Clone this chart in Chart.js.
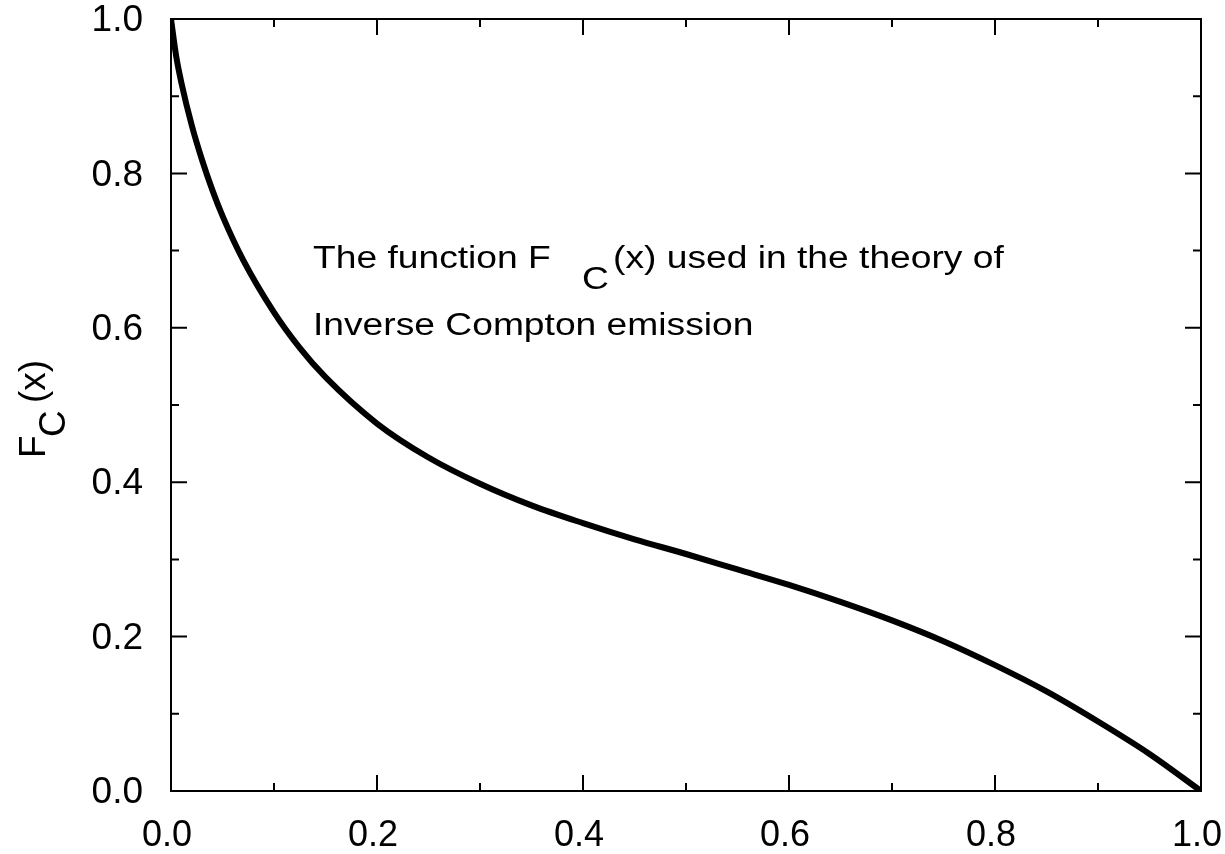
<!DOCTYPE html>
<html>
<head>
<meta charset="utf-8">
<script src="https://cdn.jsdelivr.net/npm/chart.js@4.4.0/dist/chart.umd.min.js"></script>
<style>
  body { margin: 0; background: #fff; }
  #wrap { width: 1225px; height: 854px; }
</style>
</head>
<body>
<div id="wrap"><canvas id="myChart"></canvas></div>
<script>
"use strict";

// values
var xValues = [0, 0.005, 0.01, 0.02, 0.03, 0.04, 0.05, 0.07, 0.1, 0.125, 0.15, 0.2, 0.25, 0.3, 0.35, 0.4, 0.45, 0.5, 0.55, 0.6, 0.65, 0.7, 0.75, 0.8, 0.85, 0.9, 0.95, 1.0];
var fcValues = [1.0, 0.952, 0.918, 0.863, 0.818, 0.779, 0.745, 0.688, 0.620, 0.574, 0.536, 0.476, 0.432, 0.398, 0.370, 0.347, 0.326, 0.307, 0.287, 0.267, 0.245, 0.221, 0.194, 0.163, 0.129, 0.090, 0.048, 0.0];
var majorTicks = [0, 0.2, 0.4, 0.6, 0.8, 1.0];
var minorTicks = [0.1, 0.3, 0.5, 0.7, 0.9];

var FONT = "'Liberation Sans', Arial, Helvetica, sans-serif";

var points = [];
for (var i = 0; i < xValues.length; i++) {
    points.push({ x: xValues[i], y: fcValues[i] });
}

// frame + inward ticks on all four sides, plus the texts with subscripts
var framePlugin = {
    id: 'frame',
    afterDraw: function(chart) {
        var ctx = chart.ctx;
        var a = chart.chartArea;
        var xs = chart.scales.x;
        var ys = chart.scales.y;
        ctx.save();
        ctx.strokeStyle = '#000';
        ctx.lineWidth = 2;
        ctx.strokeRect(a.left, a.top, a.right - a.left, a.bottom - a.top);
        ctx.beginPath();
        var drawTicks = function(list, len) {
            list.forEach(function(v) {
                var px = xs.getPixelForValue(v);
                ctx.moveTo(px, a.bottom); ctx.lineTo(px, a.bottom - len);
                ctx.moveTo(px, a.top); ctx.lineTo(px, a.top + len);
                var py = ys.getPixelForValue(v);
                ctx.moveTo(a.left, py); ctx.lineTo(a.left + len, py);
                ctx.moveTo(a.right, py); ctx.lineTo(a.right - len, py);
            });
        };
        drawTicks(majorTicks, 16);
        drawTicks(minorTicks, 8);
        ctx.stroke();

        ctx.fillStyle = '#000';
        ctx.textBaseline = 'alphabetic';
        ctx.textAlign = 'left';

        // annotation (the original type is a bit wider than Liberation Sans)
        var label = function(txt, x, y) {
            ctx.save();
            ctx.translate(x, y);
            ctx.scale(1.2, 1);
            ctx.font = '31px ' + FONT;
            ctx.fillText(txt, 0, 0);
            ctx.restore();
        };
        label('The function F', 313, 268);
        label('C', 582, 289);
        label('(x) used in the theory of', 613, 268);
        label('Inverse Compton emission', 313, 335);

        // y axis title
        ctx.translate(45, 458);
        ctx.rotate(-Math.PI / 2);
        ctx.font = '37px ' + FONT;
        ctx.fillText('F', 0, 0);
        ctx.fillText('C', 21, 20);
        ctx.fillText('(x)', 55, 0);
        ctx.restore();
    }
};

var ctx1 = document.getElementById("myChart").getContext('2d');
var myChart = new Chart(ctx1, {
    type: 'line',
    data: {
        datasets: [{
            data: points,
            borderColor: '#000',
            borderWidth: 6,
            pointRadius: 0,
            fill: false,
            cubicInterpolationMode: 'monotone'
        }]
    },
    options: {
        responsive: true,
        maintainAspectRatio: false,
        animation: false,
        layout: { padding: { top: 19, right: 24, left: 0, bottom: 0 } },
        plugins: { legend: { display: false }, tooltip: { enabled: false } },
        scales: {
            x: {
                type: 'linear',
                min: 0, max: 1,
                grid: { display: false, drawTicks: false },
                border: { display: false },
                afterFit: function(scale) { scale.height = 63; scale.paddingLeft = 0; scale.paddingRight = 0; },
                ticks: {
                    stepSize: 0.2,
                    padding: 23,
                    labelOffset: -4,
                    color: '#000',
                    font: { size: 36, family: FONT },
                    callback: function(v) { return v.toFixed(1); }
                }
            },
            y: {
                min: 0, max: 1,
                grid: { display: false, drawTicks: false },
                border: { display: false },
                afterFit: function(scale) { scale.width = 171; scale.paddingTop = 0; scale.paddingBottom = 0; },
                ticks: {
                    stepSize: 0.2,
                    padding: 28,
                    labelOffset: 2,
                    color: '#000',
                    font: { size: 37, family: FONT },
                    callback: function(v) { return v.toFixed(1); }
                }
            }
        }
    },
    plugins: [framePlugin]
});
</script>
</body>
</html>
